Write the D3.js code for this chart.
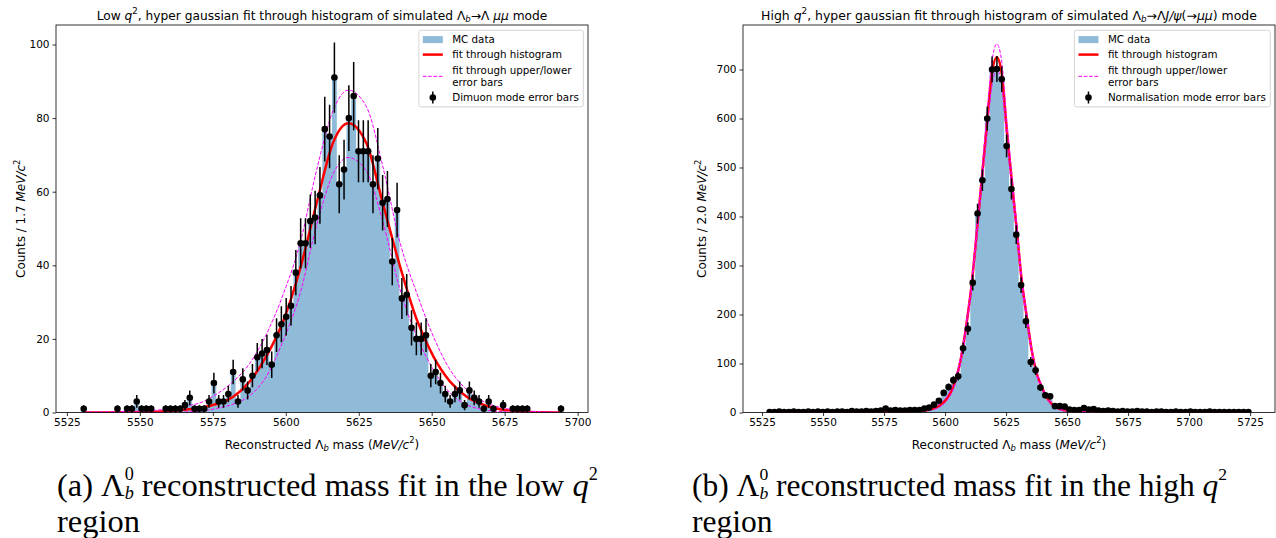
<!DOCTYPE html>
<html><head><meta charset="utf-8">
<script src="https://cdn.jsdelivr.net/npm/d3@7/dist/d3.min.js"></script>
<style>
body{margin:0;background:#fff}
svg text{font-family:"DejaVu Sans",sans-serif;fill:#000}
</style>
</head><body>
<svg id="c" width="1276" height="538"></svg>
<script>
// ---------------- DATA ----------------
// Low q^2 panel: histogram of simulated Lambda_b -> Lambda mu mu
const lowBinStart = 5529.93;
const lowBinWidth = 1.652;
const lowCounts = [1,0,0,0,0,0,0,1,0,1, 1,3,1,1,1,0,0,1,1,1, 1,2,4,1,1,1,3,8,3,3,
  5,11,3,9,6,10,15,16,17,13, 21,24,26,29,38,46,46,52,53,59, 77,75,91,62,66,80,86,71,71,71,
  62,69,57,58,41,55,31,32,23,20, 20,21,10,11,8,5,3,5,6,2, 6,4,3,1,3,1,0,2,0,1,
  1,1,1,0,0,0,0,0,0,1];
const lowFit = [[5530.8,0],[5545,0.05],[5555,0.2],[5562,0.5],[5566,0.8],[5570.6,1.3],[5576.3,2.3],[5582,4.3],
  [5587.7,8.5],[5593.5,15.5],[5599.2,25],[5604.9,39],[5610.6,57],[5616.3,73.5],[5621.4,78.6],[5627.7,73],
  [5633.2,57],[5639.2,39.6],[5644.9,25.2],[5650.6,15.2],[5656.3,8.4],[5662,4.3],[5667.7,2.1],[5673.4,0.9],
  [5680,0.3],[5688,0.05],[5694.3,0]];
const lowFitUpper = [[5530.8,0.1],[5545,0.3],[5555,0.6],[5562,1.2],[5566,1.8],[5570.6,2.6],[5576.3,5],[5582,8.4],
  [5587.7,13.4],[5593.5,21.5],[5599.2,32.3],[5604.9,46],[5610.6,66],[5616.3,82.2],[5621.4,87.6],[5627.7,83],
  [5633.2,67],[5639.2,46],[5644.9,32.4],[5650.6,20.6],[5656.3,11.6],[5662,6.2],[5667.7,3],[5673.4,1.4],
  [5680,0.6],[5688,0.2],[5694.3,0.1]];
const lowFitLower = [[5530.8,0],[5555,0.05],[5562,0.1],[5570.6,0.4],[5576.3,1.1],[5582,2.3],[5587.7,4.6],
  [5593.5,10],[5599.2,19.7],[5604.9,32.3],[5610.6,51],[5616.3,65],[5621.4,69.3],[5627.7,65.5],[5633.2,52],
  [5639.2,33.3],[5644.9,20.6],[5650.6,11.6],[5656.3,5.3],[5662,2.1],[5667.7,0.8],[5673.4,0.25],[5680,0.05],[5694.3,0]];
const lowXTicks = [5525,5550,5575,5600,5625,5650,5675,5700];
const lowYTicks = [0,20,40,60,80,100];

// High q^2 panel: histogram of simulated Lambda_b -> Lambda J/psi(-> mu mu)
const highBinStart = 5527.1;
const highBinWidth = 1.982;
const highCounts = [1,1,2,1,1,2,1,1,2,1, 2,1,2,1,2,2,1,3,2,2, 3,2,3,4,8,4,5,4,
  4,5,5,5,8,10,16,24,40,52, 66,74,131,171,265,406,474,600,700,701,
  680,544,456,363,260,186,103,86,51,35, 33,13,13,12,6,5,5,9,6,7, 4,3,
  4,3,2,3,2,2,3,2,2,1, 2,2,1,1,2,1,1,2,1,1, 1,2,1,1,1,1,1,1,1,1];
const highFit = [[5528.1,0],[5560,0.1],[5575,0.3],[5580,0.5],[5586,1.5],[5591.8,4],[5595.2,8],[5598,15],
  [5600.7,28],[5602.8,46],[5604.8,74],[5606.8,118],[5608.9,185],[5610.9,262],[5613,368],[5615,474],
  [5617.1,585],[5619.1,688],[5621.2,725],[5623.2,692],[5625.3,576],[5627.3,474],[5629.4,372],[5631.4,270],
  [5633.5,195],[5635.5,127],[5637.6,79],[5639.6,52],[5641.7,31],[5644.4,14],[5648.5,5],[5654,1.5],
  [5665,0.3],[5690,0.1],[5724.3,0]];
const highFitUpper = [[5528.1,0.1],[5560,0.3],[5575,0.6],[5580,1],[5586,2.5],[5591.8,5.5],[5595.2,10],[5598,18],
  [5600.7,32],[5602.8,51],[5604.8,80],[5606.8,125],[5608.9,193],[5610.9,272],[5613,380],[5615,490],
  [5617.1,605],[5619.1,712],[5621.2,752],[5623.2,717],[5625.3,596],[5627.3,490],[5629.4,385],[5631.4,280],
  [5633.5,203],[5635.5,133],[5637.6,84],[5639.6,56],[5641.7,34],[5644.4,16],[5648.5,6],[5654,2],
  [5665,0.5],[5690,0.2],[5724.3,0.1]];
const highFitLower = [[5528.1,0],[5575,0.1],[5580,0.3],[5586,1],[5591.8,3],[5595.2,6],[5598,12],
  [5600.7,24],[5602.8,41],[5604.8,68],[5606.8,111],[5608.9,177],[5610.9,252],[5613,356],[5615,458],
  [5617.1,566],[5619.1,664],[5621.2,700],[5623.2,668],[5625.3,556],[5627.3,458],[5629.4,359],[5631.4,260],
  [5633.5,187],[5635.5,121],[5637.6,74],[5639.6,48],[5641.7,28],[5644.4,12],[5648.5,4],[5654,1],
  [5665,0.2],[5724.3,0]];
const highXTicks = [5525,5550,5575,5600,5625,5650,5675,5700,5725];
const highYTicks = [0,100,200,300,400,500,600,700];

// ---------------- DRAWING ----------------
const svg = d3.select('#c');
const FS = 10.5;   // tick labels
const LFS = 12;    // axis labels

function rich(sel, parts, fs, opt) {
  opt = opt || {};
  const subK = opt.sub || 0.22, supK = opt.sup || 0.42, sc = opt.scale || 0.7;
  let shift = 0;
  parts.forEach(p => {
    if (typeof p === 'string') p = {t: p};
    const ts = sel.append('tspan').text(p.t);
    const target = p.sub ? fs * subK : p.sup ? -fs * supK : 0;
    if (target - shift !== 0) ts.attr('dy', target - shift);
    shift = target;
    if (p.sub || p.sup) ts.attr('font-size', fs * sc);
    if (p.it) ts.attr('font-style', 'italic');
    if (p.dx) ts.attr('dx', p.dx);
  });
}

function fitText(sel, targetW, fs) {
  sel.attr('font-size', fs);
  const w = sel.node().getComputedTextLength();
  const nfs = fs * targetW / w;
  sel.attr('font-size', nfs);
  sel.selectAll('tspan').each(function() {
    const t = d3.select(this);
    const f = t.attr('font-size');
    if (f) t.attr('font-size', +f * nfs / fs);
    const dy = t.attr('dy');
    if (dy) t.attr('dy', +dy * nfs / fs);
  });
  return nfs;
}

function panel(cfg, id) {
  const g = svg.append('g');
  const x = d3.scaleLinear().domain(cfg.xDomain).range([cfg.x0, cfg.x1]);
  const y = d3.scaleLinear().domain([0, cfg.yMax]).range([cfg.y1, cfg.y0]);

  svg.append('clipPath').attr('id', 'clip' + id).append('rect')
    .attr('x', cfg.x0).attr('y', cfg.y0).attr('width', cfg.x1 - cfg.x0).attr('height', cfg.y1 - cfg.y0);
  const plot = g.append('g').attr('clip-path', `url(#clip${id})`);

  // histogram (filled step)
  const n = cfg.counts.length;
  const hist = cfg.counts.map((c, i) => ({e: cfg.binStart + i * cfg.binWidth, c}));
  hist.push({e: cfg.binStart + n * cfg.binWidth, c: cfg.counts[n - 1]});
  plot.append('path').datum(hist)
    .attr('d', d3.area().x(d => x(d.e)).y0(y(0)).y1(d => y(d.c)).curve(d3.curveStepAfter))
    .attr('fill', '#1f77b4').attr('fill-opacity', 0.5);

  const line = d3.line().x(d => x(d[0])).y(d => y(d[1])).curve(d3.curveMonotoneX);
  plot.append('path').datum(cfg.fit).attr('d', line)
    .attr('fill', 'none').attr('stroke', '#ff0000').attr('stroke-width', 2.5);
  [cfg.fitUpper, cfg.fitLower].forEach(f => {
    plot.append('path').datum(f).attr('d', line)
      .attr('fill', 'none').attr('stroke', '#ff00ff').attr('stroke-width', 1)
      .attr('stroke-dasharray', '3.7,1.6');
  });

  // error bars
  const pts = cfg.counts.map((c, i) => ({m: cfg.binStart + (i + 0.5) * cfg.binWidth, c})).filter(d => d.c > 0);
  plot.selectAll('.eb').data(pts).enter().append('line')
    .attr('x1', d => x(d.m)).attr('x2', d => x(d.m))
    .attr('y1', d => y(d.c - Math.sqrt(d.c))).attr('y2', d => y(d.c + Math.sqrt(d.c)))
    .attr('stroke', '#000').attr('stroke-width', 1.5);
  plot.selectAll('.pt').data(pts).enter().append('circle')
    .attr('cx', d => x(d.m)).attr('cy', d => y(d.c)).attr('r', 3.3).attr('fill', '#000');

  // frame
  g.append('rect').attr('x', cfg.x0).attr('y', cfg.y0).attr('width', cfg.x1 - cfg.x0)
    .attr('height', cfg.y1 - cfg.y0).attr('fill', 'none').attr('stroke', '#000').attr('stroke-width', 0.8);

  // axes
  const ax = g.append('g').attr('transform', `translate(0,${cfg.y1})`)
    .call(d3.axisBottom(x).tickValues(cfg.xTicks).tickFormat(d3.format('d')).tickSize(3.5).tickPadding(3));
  const ay = g.append('g').attr('transform', `translate(${cfg.x0},0)`)
    .call(d3.axisLeft(y).tickValues(cfg.yTicks).tickFormat(d3.format('d')).tickSize(3.5).tickPadding(3));
  [ax, ay].forEach(a => {
    a.select('.domain').remove();
    a.selectAll('line').attr('stroke', '#000').attr('stroke-width', 0.8);
    a.selectAll('text').attr('font-size', FS).attr('font-family', '"DejaVu Sans",sans-serif').attr('fill', '#000');
  });

  // title
  const cx = (cfg.x0 + cfg.x1) / 2;
  const t = g.append('text').attr('x', cx).attr('y', 19.5).attr('text-anchor', 'middle');
  rich(t, cfg.title, 12);
  fitText(t, cfg.titleW, 12);

  // x label
  const xl = g.append('text').attr('x', cx).attr('y', 448.5).attr('text-anchor', 'middle').attr('font-size', LFS);
  rich(xl, ['Reconstructed Λ', {t: 'b', sub: 1, it: 1}, ' mass (', {t: 'MeV/c', it: 1}, {t: '2', sup: 1}, ')'], LFS);

  // y label
  const yl = g.append('text').attr('transform', `translate(${cfg.ylx},${(cfg.y0 + cfg.y1) / 2}) rotate(-90)`)
    .attr('text-anchor', 'middle').attr('font-size', LFS);
  rich(yl, [cfg.ylab, {t: 'MeV/c', it: 1}, {t: '2', sup: 1}], LFS);

  // legend
  const LF = 10.3;
  const labels = ['MC data', 'fit through histogram', 'fit through upper/lower', 'error bars', cfg.ebLabel];
  const lg = g.append('g');
  const tmp = lg.append('g');
  let maxW = 0;
  labels.forEach(l => {
    const tt = tmp.append('text').attr('font-size', LF).text(l);
    maxW = Math.max(maxW, tt.node().getComputedTextLength());
  });
  tmp.remove();
  const boxR = cfg.x1 - 4.7;
  const textX = boxR - 4.5 - maxW;
  const h0 = textX - 29.4, h1 = textX - 9.4;
  const top = 30.3;
  lg.append('rect').attr('x', h0 - 4).attr('y', top).attr('width', boxR - h0 + 4).attr('height', 76.5)
    .attr('rx', 2).attr('fill', '#fff').attr('fill-opacity', 0.8).attr('stroke', '#cccccc').attr('stroke-width', 0.8);
  const rows = [top + 9.3, top + 24.3, top + 39.7, top + 52.4, top + 67.2];
  lg.append('rect').attr('x', h0).attr('y', rows[0] - 3.5).attr('width', 20).attr('height', 7)
    .attr('fill', '#1f77b4').attr('fill-opacity', 0.5);
  lg.append('line').attr('x1', h0).attr('x2', h1).attr('y1', rows[1]).attr('y2', rows[1])
    .attr('stroke', '#ff0000').attr('stroke-width', 2.5);
  const dm = (rows[2] + rows[3]) / 2;
  lg.append('line').attr('x1', h0).attr('x2', h1).attr('y1', dm).attr('y2', dm)
    .attr('stroke', '#ff00ff').attr('stroke-width', 1).attr('stroke-dasharray', '3.7,1.6');
  const hm = (h0 + h1) / 2;
  lg.append('line').attr('x1', hm).attr('x2', hm).attr('y1', rows[4] - 6).attr('y2', rows[4] + 6)
    .attr('stroke', '#000').attr('stroke-width', 1.5);
  lg.append('circle').attr('cx', hm).attr('cy', rows[4]).attr('r', 3.3).attr('fill', '#000');
  labels.forEach((l, i) => {
    lg.append('text').attr('x', textX).attr('y', rows[i] + 3.7).attr('font-size', LF).text(l);
  });

  // caption
  const cap = g.append('text').attr('x', cfg.capX).attr('y', 496)
    .style('font-family', '"Liberation Serif","DejaVu Serif",serif');
  rich(cap, [cfg.capTag + ' Λ', {t: '0', sup: 1}, {t: 'b', sub: 1, it: 1, dx: '-0.5em'},
    ' reconstructed mass fit in the ' + cfg.capWord + ' ', {t: 'q', it: 1}, {t: '2', sup: 1}], 24,
    {sub: 0.1, sup: 0.5, scale: 0.56});
  const cfs = fitText(cap, cfg.capW, 24);
  g.append('text').attr('x', cfg.capX).attr('y', 531.5).attr('font-size', cfs)
    .style('font-family', '"Liberation Serif","DejaVu Serif",serif').text('region');
}

panel({
  x0: 56, x1: 588, y0: 25, y1: 412.5,
  xDomain: [5521.26, 5703.56], yMax: 105.3,
  counts: lowCounts, binStart: lowBinStart, binWidth: lowBinWidth,
  fit: lowFit, fitUpper: lowFitUpper, fitLower: lowFitLower,
  xTicks: lowXTicks, yTicks: lowYTicks,
  title: ['Low ', {t: 'q', it: 1}, {t: '2', sup: 1}, ', hyper gaussian fit through histogram of simulated  Λ',
    {t: 'b', sub: 1, it: 1}, '→Λ ', {t: 'μμ', it: 1}, ' mode'],
  titleW: 451,
  ylab: 'Counts  / 1.7 ', ylx: 25,
  ebLabel: 'Dimuon mode error bars',
  capX: 57, capW: 550, capTag: '(a)', capWord: 'low'
}, 1);

panel({
  x0: 743, x1: 1275, y0: 25, y1: 412.5,
  xDomain: [5517.2, 5735.2], yMax: 790.8,
  counts: highCounts, binStart: highBinStart, binWidth: highBinWidth,
  fit: highFit, fitUpper: highFitUpper, fitLower: highFitLower,
  xTicks: highXTicks, yTicks: highYTicks,
  title: ['High ', {t: 'q', it: 1}, {t: '2', sup: 1}, ', hyper gaussian fit through histogram of simulated  Λ',
    {t: 'b', sub: 1, it: 1}, '→Λ', {t: 'J/ψ', it: 1}, '(→', {t: 'μμ', it: 1}, ') mode'],
  titleW: 496,
  ylab: 'Counts  / 2.0 ', ylx: 706,
  ebLabel: 'Normalisation mode error bars',
  capX: 692, capW: 544, capTag: '(b)', capWord: 'high'
}, 2);
</script>
</body></html>
